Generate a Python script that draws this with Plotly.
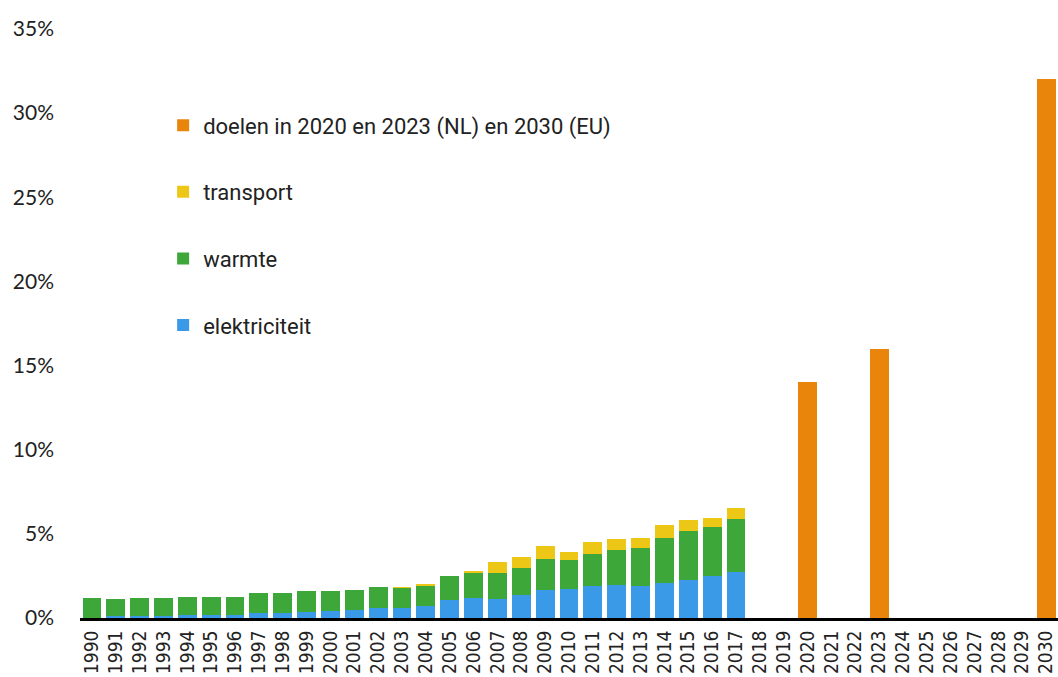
import plotly.graph_objects as go

years = list(range(1990, 2031))

elektriciteit = [0.0, 0.10, 0.10, 0.10, 0.15, 0.15, 0.20, 0.27, 0.30, 0.35,
                 0.39, 0.46, 0.58, 0.60, 0.70, 1.06, 1.18, 1.12, 1.36, 1.68,
                 1.71, 1.92, 1.95, 1.89, 2.07, 2.27, 2.51, 2.73]
warmte = [1.16, 1.00, 1.06, 1.06, 1.07, 1.07, 1.02, 1.19, 1.16, 1.23,
          1.19, 1.18, 1.24, 1.20, 1.23, 1.41, 1.49, 1.53, 1.64, 1.80,
          1.75, 1.90, 2.11, 2.29, 2.70, 2.92, 2.89, 3.13]
transport = [0.0, 0.0, 0.0, 0.0, 0.0, 0.0, 0.0, 0.0, 0.0, 0.0,
             0.0, 0.0, 0.0, 0.03, 0.12, 0.0, 0.12, 0.67, 0.62, 0.79,
             0.46, 0.69, 0.63, 0.57, 0.75, 0.63, 0.54, 0.68]
hist_years = list(range(1990, 2018))

doel_years = [2020, 2023, 2030]
doelen = [14.0, 16.0, 32.0]

ytick_vals = [0, 5, 10, 15, 20, 25, 30, 35]
ytick_text = ["0%", "5%", "10%", "15%", "20%", "25%", "30%", "35%"]

narrow = "DejaVu Sans Condensed, Liberation Sans Narrow, sans-serif"

fig = go.Figure()
fig.add_trace(go.Bar(x=hist_years, y=elektriciteit, name="elektriciteit",
                     marker=dict(color="#3a9ae8", line=dict(width=0)),
                     legendgroup="a", legendrank=4))
fig.add_trace(go.Bar(x=hist_years, y=warmte, name="warmte",
                     marker=dict(color="#3da73a", line=dict(width=0)),
                     legendgroup="b", legendrank=3))
fig.add_trace(go.Bar(x=hist_years, y=transport, name="transport",
                     marker=dict(color="#ecc716", line=dict(width=0)),
                     legendgroup="c", legendrank=2))
fig.add_trace(go.Bar(x=doel_years, y=doelen,
                     name="doelen in 2020 en 2023 (NL) en 2030 (EU)",
                     marker=dict(color="#ea850c", line=dict(width=0)),
                     legendgroup="d", legendrank=1))

fig.update_layout(
    barmode="stack",
    bargap=0.21,
    width=1058, height=677,
    margin=dict(l=80, r=0, t=29, b=59),
    paper_bgcolor="white",
    plot_bgcolor="white",
    showlegend=True,
    legend=dict(
        x=0.085, y=0.872, xanchor="left", yanchor="top",
        traceorder="grouped",
        tracegroupgap=35,
        font=dict(family="Roboto, sans-serif", size=22, color="#222222"),
        bgcolor="rgba(0,0,0,0)",
    ),
    xaxis=dict(
        range=[1989.5, 2030.5],
        tickmode="array",
        tickvals=years,
        ticktext=[str(y) for y in years],
        tickangle=-90,
        tickfont=dict(family=narrow, size=19, color="#222222"),
        ticklabeloverflow="allow",
        ticklabelstandoff=2,
        automargin=False,
        showgrid=False,
        showline=True, linecolor="black", linewidth=3,
        ticks="", zeroline=False,
        fixedrange=True,
    ),
    yaxis=dict(
        range=[0, 35],
        tickmode="array",
        tickvals=ytick_vals,
        ticktext=ytick_text,
        tickfont=dict(family="Lato, sans-serif", size=21, color="#222222"),
        automargin=False,
        showgrid=False, zeroline=False, showline=False,
        ticks="", ticklabelstandoff=25,
    ),
)

fig.write_html("out.html")
